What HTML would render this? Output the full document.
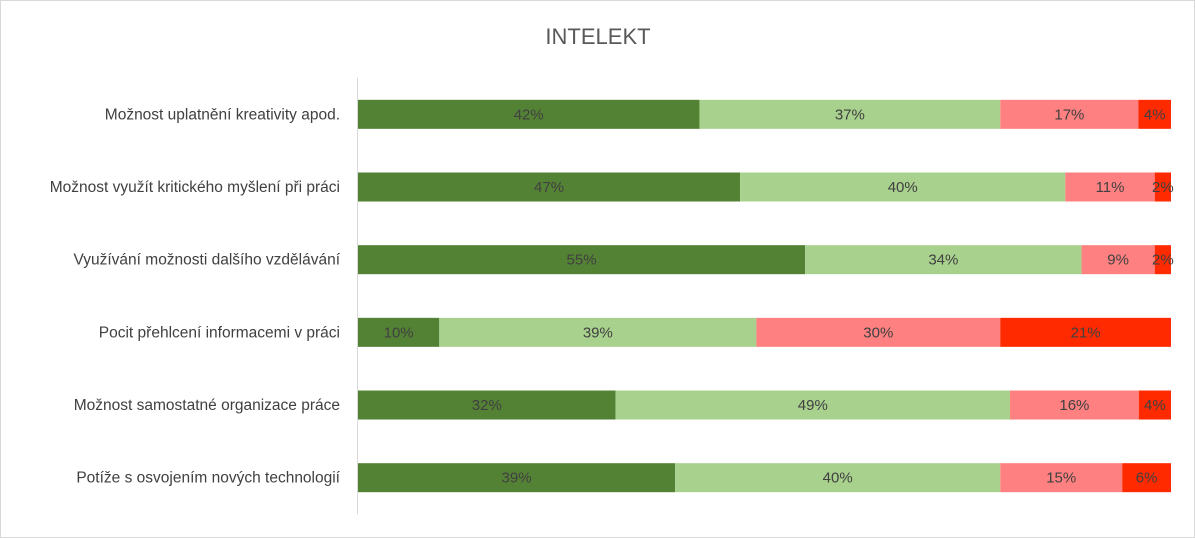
<!DOCTYPE html>
<html><head><meta charset="utf-8">
<style>
html,body{margin:0;padding:0;background:#fff;}
svg{display:block;font-family:"Liberation Sans",sans-serif;}
</style></head>
<body>
<svg id="chart" width="1195" height="538" viewBox="0 0 1195 538">
<rect x="0.5" y="0.5" width="1194" height="537" fill="#fff" stroke="#d9d9d9"/>
<text x="598" y="44" text-anchor="middle" font-size="22" fill="#595959">INTELEKT</text>
<g id="bars"></g>
<line x1="357.5" y1="78" x2="357.5" y2="514" stroke="#d9d9d9" stroke-width="1"/>
</svg>
<script>
const categories = ["Možnost uplatnění kreativity apod.","Možnost využít kritického myšlení při práci","Využívání možnosti dalšího vzdělávání","Pocit přehlcení informacemi v práci","Možnost samostatné organizace práce","Potíže s osvojením nových technologií"];
const series1 = [42,47,55,10,32,39];
const series2 = [37,40,34,39,49,40];
const series3 = [17,11,9,30,16,15];
const series4 = [4,2,2,21,4,6];
const colors = ["#548235","#a9d18e","#ff8080","#ff2a00"];
const x0 = 358, x1 = 1171, yTop = 78, rowH = 72.67, barH = 29;
const xScale = v => x0 + (x1 - x0) * v / 100;
const g = document.getElementById('bars');
const NS = "http://www.w3.org/2000/svg";
const all = [series1, series2, series3, series4];
categories.forEach((c, i) => {
  const yc = yTop + rowH * (i + 0.5);
  const lab = document.createElementNS(NS, 'text');
  
  
  lab.setAttribute('x', 340); lab.setAttribute('y', yc + 5);
  lab.setAttribute('text-anchor', 'end'); lab.setAttribute('font-size', '15.5'); lab.setAttribute('fill', '#404040');
  lab.textContent = c; g.appendChild(lab);
  const tot = all.reduce((s, a) => s + a[i], 0);
  let cum = 0;
  all.forEach((arr, k) => {
    const v = arr[i] / tot * 100;
    const xa = xScale(cum), xb = xScale(cum + v);
    const r = document.createElementNS(NS, 'rect');
    
    
    r.setAttribute('x', xa); r.setAttribute('y', yc - barH / 2);
    r.setAttribute('width', xb - xa); r.setAttribute('height', barH);
    r.setAttribute('fill', colors[k]); g.appendChild(r);
    const t = document.createElementNS(NS, 'text');
    
    
    t.setAttribute('x', (xa + xb) / 2); t.setAttribute('y', yc + 5);
    t.setAttribute('text-anchor', 'middle'); t.setAttribute('font-size', '15'); t.setAttribute('fill', '#404040');
    t.textContent = arr[i] + '%'; g.appendChild(t);
    cum += v;
  });
});
</script>
</body></html>
